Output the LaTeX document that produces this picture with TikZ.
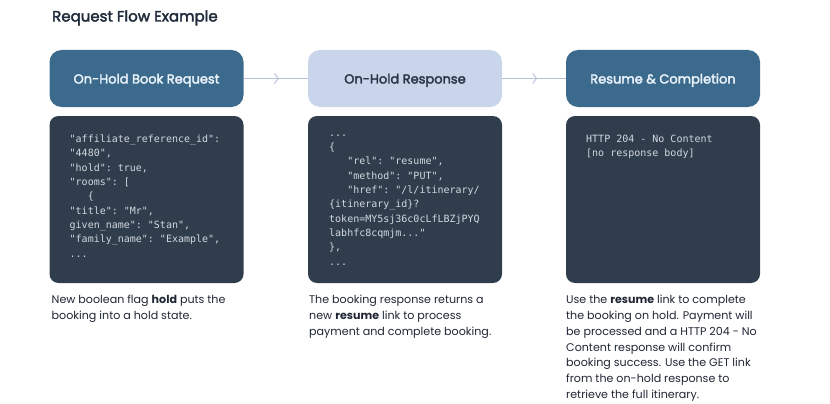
\documentclass[tikz,border=0pt]{standalone}
\usepackage{fontspec}
\setmainfont{Poppins}
\setmonofont{DejaVu Sans Mono}
\newfontfamily\headfont{Poppins}[FakeBold=2.5]
\usetikzlibrary{arrows.meta,positioning,decorations.markings}

\definecolor{headblue}{HTML}{3B6A8D}
\definecolor{headtext}{HTML}{EAF2FA}
\definecolor{lightblue}{HTML}{C9D5EA}
\definecolor{lighttext}{HTML}{2B3548}
\definecolor{codebg}{HTML}{2F3D4D}
\definecolor{codetext}{HTML}{D3D8DE}
\definecolor{desctext}{HTML}{1F2633}
\definecolor{arrowcol}{HTML}{B7C2DA}
\definecolor{titlecol}{HTML}{1F2A3B}

\begin{document}
\begin{tikzpicture}[
    x = 1pt,
    y = -1pt,
    head/.style = {
      rectangle,
      rounded corners = 12pt,
      minimum width = 194pt,
      minimum height = 57pt,
      outer sep = 0pt,
      text height = 10pt,
      text depth = 0pt,
      fill = headblue,
      text = headtext,
      font = \headfont\fontsize{13}{15}\selectfont
    },
    lighthead/.style = {
      head,
      fill = lightblue,
      text = lighttext
    },
    codebox/.style = {
      rectangle,
      rounded corners = 9pt,
      minimum width = 194pt,
      minimum height = 167pt,
      outer sep = 0pt,
      fill = codebg
    },
    code/.style = {
      inner sep = 0pt,
      align = left,
      text = codetext,
      font = \ttfamily\fontsize{10}{14.35}\selectfont
    },
    desc/.style = {
      inner sep = 0pt,
      align = left,
      text = desctext,
      font = \fontsize{11.1}{15.8}\selectfont
    },
    flow/.style = {
      draw = arrowcol,
      line width = 0.9pt,
      postaction = {decorate},
      decoration = {markings,
        mark = at position 0.55 with {\arrow{Straight Barb[length=4pt,width=10pt]}}}
    }
  ]
  \useasboundingbox (0,0) rectangle (830,404);

  \node[anchor=base west, inner sep=0pt, text=titlecol,
    font=\headfont\fontsize{15}{17}\selectfont] (title) at (52,21.5) {Request Flow Example};

  % step headers
  \node[head]      (hold) at (146.5,78.5) {On-Hold Book Request};
  \node[lighthead] (resp) at (405,78.5)   {On-Hold Response};
  \node[head]      (done) at (663,78.5)   {Resume \& Completion};

  \draw[flow] (hold) -- (resp);
  \draw[flow] (resp) -- (done);

  % code panels
  \node[codebox, below=9pt of hold] (holdbox) {};
  \node[codebox, below=9pt of resp] (respbox) {};
  \node[codebox, below=9pt of done] (donebox) {};

  \node[code, below right=18.5pt and 20pt of holdbox.north west] (holdcode) {%
    "affiliate\_reference\_id":\\
    "4480",\\
    "hold": true,\\
    "rooms": [\\
    \phantom{000}\{\\
    "title": "Mr",\\
    given\_name": "Stan",\\
    "family\_name": "Example",\\
    ...};

  \node[code, below right=18.5pt and 21pt of respbox.north west] (respcode) {%
    ...\\
    \{\\
    \phantom{000}"rel": "resume",\\
    \phantom{000}"method": "PUT",\\
    \phantom{000}"href": "/l/itinerary/\\
    \{itinerary\_id\}?\\
    token=MY5sj36c0cLfLBZjPYQ\\
    labhfc8cqmjm..."\\
    \},\\
    ...};

  \node[code, below right=18.5pt and 20pt of donebox.north west] (donecode) {%
    HTTP 204 - No Content\\{}[no response body]};

  % notes under the panels
  \node[desc, below right=12pt and 2pt of holdbox.south west] (holdtext) {%
    New boolean flag \textbf{hold} puts the\\
    booking into a hold state.};

  \node[desc, below right=12pt and 1pt of respbox.south west] (resptext) {%
    The booking response returns a\\
    new \textbf{resume} link to process\\
    payment and complete booking.};

  \node[desc, below right=12pt and 0pt of donebox.south west] (donetext) {%
    Use the \textbf{resume} link to complete\\
    the booking on hold. Payment will\\
    be processed and a HTTP 204 - No\\
    Content response will confirm\\
    booking success. Use the GET link\\
    from the on-hold response to\\
    retrieve the full itinerary.};
\end{tikzpicture}
\end{document}
